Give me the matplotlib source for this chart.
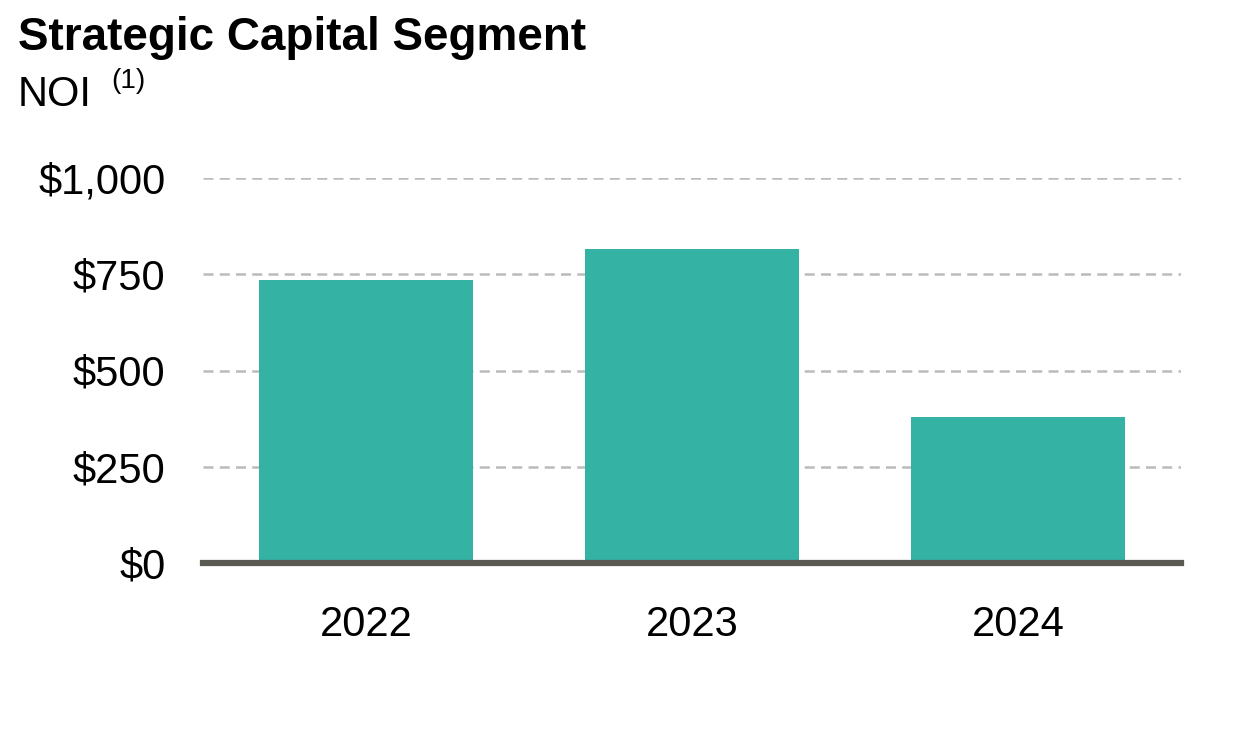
import matplotlib
matplotlib.use("Agg")
import matplotlib.pyplot as plt

years = ["2022", "2023", "2024"]
noi = [734, 815, 378]
yticks = [0, 250, 500, 750, 1000]
ytick_labels = ["$0", "$250", "$500", "$750", "$1,000"]

plt.rcParams['font.family'] = ['Liberation Sans', 'DejaVu Sans']

fig = plt.figure(figsize=(12.35, 7.29), dpi=100)
ax = fig.add_axes([203/1235, 1 - 563/729, (1181-203)/1235, (563-178)/729])

x = list(range(len(years)))
ax.bar(x, noi, width=0.657, color="#34B2A3", zorder=3)
ax.set_xlim(-0.5, len(years) - 0.5)
ax.set_ylim(0, 1000)
ax.set_yticks(yticks)
ax.set_yticklabels(ytick_labels)
ax.set_xticks(x)
ax.set_xticklabels(years)
for v in yticks[1:]:
    ax.axhline(v, color="#BBBBBB", lw=1.8, ls=(0, (4.0, 2.5)), zorder=1)
ax.axhline(0, color="#5A5A52", lw=4.5, zorder=4, clip_on=False)

for s in ax.spines.values():
    s.set_visible(False)
ax.tick_params(axis='y', length=0, pad=27, labelsize=30)
ax.tick_params(axis='x', length=0, pad=30, labelsize=30)

fig.text(18/1235, 1 - 50/729, "Strategic Capital Segment", fontsize=33,
         fontweight='bold', ha='left', va='baseline')
fig.text(18/1235, 1 - 106/729, "NOI", fontsize=30, ha='left', va='baseline')
fig.text(111/1235, 1 - 88/729, "(1)", fontsize=20, ha='left', va='baseline')

fig.savefig("out.png", dpi=100)
